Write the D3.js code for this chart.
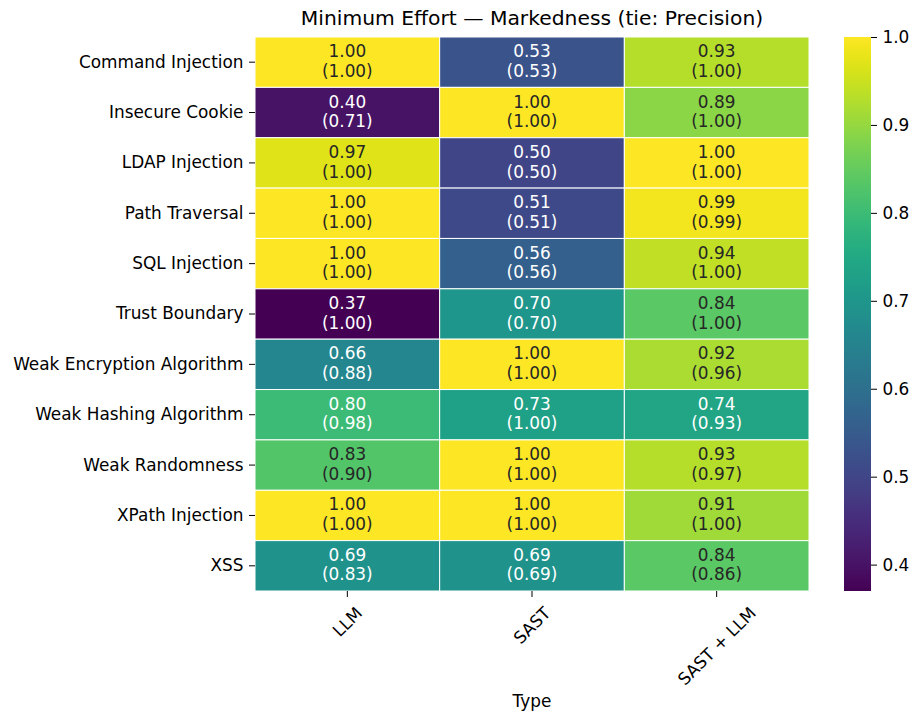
<!DOCTYPE html>
<html>
<head>
<meta charset="utf-8">
<script src="https://cdn.jsdelivr.net/npm/d3@7"></script>
<style>
  html, body { margin: 0; padding: 0; background: #fff; }
  text { font-family: "DejaVu Sans", sans-serif; }
</style>
</head>
<body>
<svg id="chart" width="912" height="715"></svg>
<script>
// Vulnerability categories (rows) and tool types (columns)
const categories = [
  "Command Injection", "Insecure Cookie", "LDAP Injection", "Path Traversal",
  "SQL Injection", "Trust Boundary", "Weak Encryption Algorithm",
  "Weak Hashing Algorithm", "Weak Randomness", "XPath Injection", "XSS"
];
const types = ["LLM", "SAST", "SAST + LLM"];

// Markedness per category, one array per type
const markednessLLM     = [1.00, 0.40, 0.97, 1.00, 1.00, 0.37, 0.66, 0.80, 0.83, 1.00, 0.69];
const markednessSAST    = [0.53, 1.00, 0.50, 0.51, 0.56, 0.70, 1.00, 0.73, 1.00, 1.00, 0.69];
const markednessCombo   = [0.93, 0.89, 1.00, 0.99, 0.94, 0.84, 0.92, 0.74, 0.93, 0.91, 0.84];

// Precision used as tie-breaker, shown in parentheses
const precisionLLM      = [1.00, 0.71, 1.00, 1.00, 1.00, 1.00, 0.88, 0.98, 0.90, 1.00, 0.83];
const precisionSAST     = [0.53, 1.00, 0.50, 0.51, 0.56, 0.70, 1.00, 1.00, 1.00, 1.00, 0.69];
const precisionCombo    = [1.00, 1.00, 1.00, 0.99, 1.00, 1.00, 0.96, 0.93, 0.97, 1.00, 0.86];

const colorbarTicks = [0.4, 0.5, 0.6, 0.7, 0.8, 0.9, 1.0];

const markedness = [markednessLLM, markednessSAST, markednessCombo];
const precision  = [precisionLLM, precisionSAST, precisionCombo];

const cells = [];
types.forEach((t, j) => {
  categories.forEach((c, i) => {
    cells.push({ type: t, category: c, value: markedness[j][i], tie: precision[j][i] });
  });
});

const svg = d3.select("#chart");
const plot = { left: 255, right: 809, top: 37, bottom: 591 };
const fontSize = 16.9;

const x = d3.scaleBand().domain(types).range([plot.left, plot.right]);
const y = d3.scaleBand().domain(categories).range([plot.top, plot.bottom]);

const allValues = cells.map(d => d.value);
const vmin = d3.min(allValues), vmax = d3.max(allValues);
const color = d3.scaleSequential(d3.interpolateViridis).domain([vmin, vmax]);

// Pick dark or white annotation text from the cell's relative luminance
function luminance(c) {
  const rgb = d3.rgb(c);
  const lin = v => { v /= 255; return v <= 0.03928 ? v / 12.92 : Math.pow((v + 0.055) / 1.055, 2.4); };
  return 0.2126 * lin(rgb.r) + 0.7152 * lin(rgb.g) + 0.0722 * lin(rgb.b);
}

// Heatmap cells
const g = svg.append("g");
g.selectAll("rect.cell")
  .data(cells)
  .join("rect")
  .attr("class", "cell")
  .attr("x", d => x(d.type))
  .attr("y", d => y(d.category))
  .attr("width", x.bandwidth())
  .attr("height", y.bandwidth())
  .attr("fill", d => color(d.value))
  .attr("stroke", "#fff")
  .attr("stroke-width", 1);

// Annotations: value and tie-break precision
const ann = g.selectAll("text.ann")
  .data(cells)
  .join("text")
  .attr("class", "ann")
  .attr("text-anchor", "middle")
  .attr("font-size", fontSize)
  .attr("fill", d => luminance(color(d.value)) > 0.408 ? "#262626" : "#ffffff");
ann.append("tspan")
  .attr("x", d => x(d.type) + x.bandwidth() / 2)
  .attr("y", d => y(d.category) + y.bandwidth() / 2 - 5)
  .text(d => d.value.toFixed(2));
ann.append("tspan")
  .attr("x", d => x(d.type) + x.bandwidth() / 2)
  .attr("y", d => y(d.category) + y.bandwidth() / 2 + 14.6)
  .text(d => "(" + d.tie.toFixed(2) + ")");

// Y axis
const yAxis = d3.axisLeft(y).tickSize(6).tickPadding(5.5);
const yg = svg.append("g").attr("transform", `translate(${plot.left},0)`).call(yAxis);
yg.select(".domain").remove();
yg.selectAll("text").attr("font-size", fontSize).attr("fill", "#000").attr("font-family", "DejaVu Sans");
yg.selectAll("line").attr("stroke", "#000").attr("stroke-width", 1);

// X axis with labels rotated 45° and centred under each tick
const xAxis = d3.axisBottom(x).tickSize(6);
const xg = svg.append("g").attr("transform", `translate(0,${plot.bottom})`).call(xAxis);
xg.select(".domain").remove();
xg.selectAll("line").attr("stroke", "#000").attr("stroke-width", 1);
xg.selectAll("text")
  .attr("font-size", fontSize)
  .attr("fill", "#000")
  .attr("font-family", "DejaVu Sans")
  .attr("y", null)
  .attr("dy", null)
  .attr("dominant-baseline", "central")
  .attr("text-anchor", "middle")
  .each(function () {
    const w = this.getComputedTextLength();
    const h = fontSize * 1.16;
    const half = (w + h) / (2 * Math.SQRT2);
    d3.select(this).attr("transform", `translate(0,${12 + half}) rotate(-45)`);
  });

// Axis title
svg.append("text")
  .attr("x", (plot.left + plot.right) / 2)
  .attr("y", 707)
  .attr("text-anchor", "middle")
  .attr("font-size", fontSize)
  .attr("fill", "#000")
  .text("Type");

// Chart title
svg.append("text")
  .attr("x", (plot.left + plot.right) / 2)
  .attr("y", 25)
  .attr("text-anchor", "middle")
  .attr("font-size", 20.3)
  .attr("fill", "#000")
  .text("Minimum Effort \u2014 Markedness (tie: Precision)");

// Colour bar
const cb = { left: 844, width: 27, top: plot.top, bottom: plot.bottom };
const cbScale = d3.scaleLinear().domain([vmin, vmax]).range([cb.bottom, cb.top]);
const defs = svg.append("defs");
const grad = defs.append("linearGradient")
  .attr("id", "cbgrad").attr("x1", 0).attr("y1", 1).attr("x2", 0).attr("y2", 0);
d3.range(0, 1.0001, 0.02).forEach(t => {
  grad.append("stop").attr("offset", t).attr("stop-color", color(vmin + t * (vmax - vmin)));
});
svg.append("rect")
  .attr("x", cb.left).attr("y", cb.top)
  .attr("width", cb.width).attr("height", cb.bottom - cb.top)
  .attr("fill", "url(#cbgrad)");
const cbAxis = d3.axisRight(cbScale).tickValues(colorbarTicks).tickFormat(d3.format(".1f")).tickSize(6).tickPadding(5.5);
const cbg = svg.append("g").attr("transform", `translate(${cb.left + cb.width},0)`).call(cbAxis);
cbg.select(".domain").remove();
cbg.selectAll("line").attr("stroke", "#000");
cbg.selectAll("text").attr("font-size", fontSize).attr("fill", "#000").attr("font-family", "DejaVu Sans");
</script>
</body>
</html>
